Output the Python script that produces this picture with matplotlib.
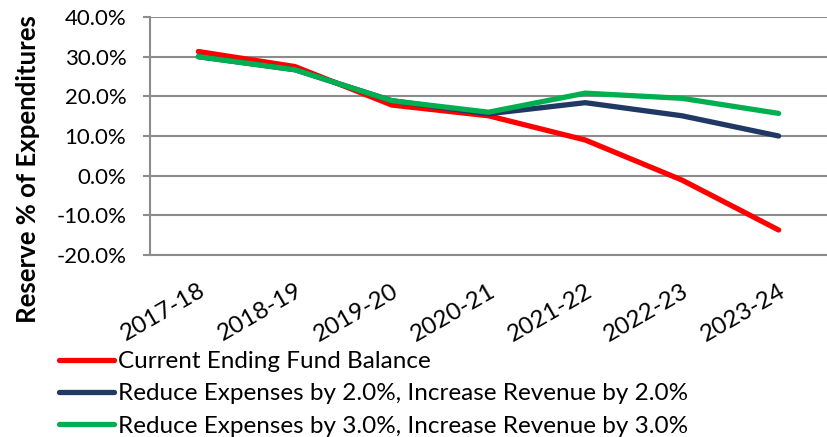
import numpy as np
import matplotlib.pyplot as plt
from matplotlib.ticker import FuncFormatter

plt.rcParams['font.family'] = ['Lato', 'DejaVu Sans']

years = ['2017-18', '2018-19', '2019-20', '2020-21', '2021-22', '2022-23', '2023-24']
current = [31.3, 27.5, 17.8, 15.1, 9.0, -1.1, -13.7]   # % of expenditures
reduce2 = [30.0, 26.7, 18.9, 15.6, 18.4, 15.1, 10.0]
reduce3 = [30.0, 26.7, 18.9, 16.0, 20.8, 19.5, 15.7]
labels = ['Current Ending Fund Balance',
          'Reduce Expenses by 2.0%, Increase Revenue by 2.0%',
          'Reduce Expenses by 3.0%, Increase Revenue by 3.0%']
colors = ['#ff0000', '#1f3864', '#00b050']

W, H = 828, 437
fig = plt.figure(figsize=(W / 100, H / 100), dpi=100)
ax = fig.add_axes([150 / W, 1 - 255 / H, 677 / W, 238 / H])

x = np.arange(len(years))
for y, lab, c in zip([current, reduce2, reduce3], labels, colors):
    ax.plot(x, y, color=c, lw=3.8, label=lab, solid_capstyle='round')

ax.set_xlim(-0.5, len(years) - 0.5)
ax.set_ylim(-20, 40)
ax.set_yticks(np.arange(-20, 41, 10))
ax.yaxis.set_major_formatter(FuncFormatter(lambda v, p: f'{v:.1f}%'))
ax.grid(axis='y', color='#8c8c8c', lw=1.5)
ax.set_axisbelow(True)
for s in ['top', 'right']:
    ax.spines[s].set_visible(False)
for s in ['left', 'bottom']:
    ax.spines[s].set_color('#8c8c8c')
    ax.spines[s].set_linewidth(1.5)
ax.tick_params(axis='y', length=5, width=1.5, color='#8c8c8c', labelsize=16, pad=12)
ax.tick_params(axis='x', length=0, labelsize=17.5, pad=18)
ax.set_xticks(x)
ax.set_xticklabels(years, rotation=30, ha='right', rotation_mode='anchor')
ax.set_ylabel('Reserve % of Expenditures', fontsize=18.5, fontweight='bold')
ax.yaxis.set_label_coords(-0.162, 0.36)

fig.legend(loc='upper left', bbox_to_anchor=(59 / W, 1 - 351 / H), frameon=False,
           fontsize=17.5, handlelength=2.26, handletextpad=0.16, labelspacing=0.47,
           borderaxespad=0, borderpad=0)

fig.savefig('out.png', dpi=100)
